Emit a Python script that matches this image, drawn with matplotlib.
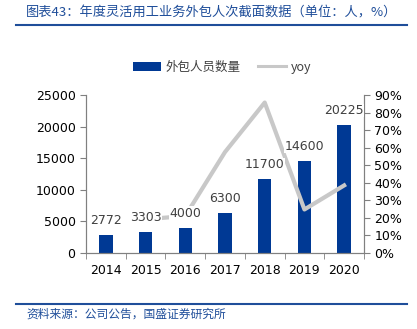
import matplotlib.pyplot as plt
from matplotlib.lines import Line2D
from matplotlib.ticker import FixedLocator, FuncFormatter
import numpy as np

plt.rcParams['font.family'] = ['Noto Sans CJK SC', 'DejaVu Sans']

years = ['2014', '2015', '2016', '2017', '2018', '2019', '2020']
staff = [2772, 3303, 4000, 6300, 11700, 14600, 20225]
yoy_years = ['2015', '2016', '2017', '2018', '2019', '2020']
yoy = [19.2, 21.1, 57.5, 85.7, 24.8, 38.5]

title = '图表43：年度灵活用工业务外包人次截面数据（单位：人，%）'
source = '资料来源：公司公告，国盛证券研究所'

bar_color = '#003994'
line_color = '#c8c8c8'
text_color = '#404040'
blue = '#1f4e9a'

fig = plt.figure(figsize=(4.17, 3.29), dpi=100)
ax = fig.add_axes([86 / 417, 1 - 253 / 329, 278 / 417, 158 / 329])
ax2 = ax.twinx()

x = np.arange(len(years))
bars = ax.bar(x, staff, width=0.34, color=bar_color, label='外包人员数量', zorder=2)

xi_yoy = [years.index(y) for y in yoy_years]
ax2.plot(xi_yoy, yoy, color=line_color, lw=3, zorder=3)

# value labels sit above the line, with a white backing
for xi, v in zip(x, staff):
    ax2.text(xi, (v + 1300) / 25000 * 90, str(v), ha='center', va='bottom', fontsize=9,
             color=text_color, family='DejaVu Sans', zorder=5,
             bbox=dict(facecolor='white', edgecolor='none', pad=0.1))

ax.set_xlim(-0.5, len(years) - 0.5)
ax.set_ylim(0, 25000)
ax.set_yticks(range(0, 25001, 5000))
ax2.set_ylim(0, 90)
ax2.set_yticks(range(0, 91, 10))
ax2.yaxis.set_major_formatter(FuncFormatter(lambda v, p: f'{int(v)}%'))

ax.set_xticks(x)
ax.set_xticklabels(years)
ax.tick_params(axis='x', length=0, pad=8)
ax.xaxis.set_minor_locator(FixedLocator(np.arange(-0.5, len(years), 1)))
ax.tick_params(axis='x', which='minor', length=4, direction='out', color='#808080')

for a in (ax, ax2):
    a.spines['top'].set_visible(False)
    for s in ('left', 'right', 'bottom'):
        a.spines[s].set_color('#808080')
    a.tick_params(axis='y', length=4, direction='out', color='#808080', labelsize=9,
                  labelcolor='black')
ax.tick_params(axis='x', labelsize=9, labelcolor='black')
for lbl in ax.get_xticklabels() + ax.get_yticklabels() + ax2.get_yticklabels():
    lbl.set_family('DejaVu Sans')

line_handle = Line2D([], [], color=line_color, lw=2.2, label='yoy')
fig.legend(handles=[bars, line_handle], loc='center',
           bbox_to_anchor=(222 / 417, 1 - 67 / 329),
           ncol=2, frameon=False, fontsize=9, handlelength=2.2, columnspacing=1.4,
           handletextpad=0.4, labelcolor=text_color)

fig.text(26 / 417, 1 - 13 / 329, title, fontsize=9.5, color=blue, style='italic',
         ha='left', va='center')
fig.add_artist(plt.Line2D([16 / 417, 407 / 417], [1 - 25 / 329, 1 - 25 / 329],
                          color=blue, lw=1.5))
fig.add_artist(plt.Line2D([16 / 417, 407 / 417], [1 - 304 / 329, 1 - 304 / 329],
                          color=blue, lw=1.5))
fig.text(26 / 417, 1 - 314 / 329, source, fontsize=8.5, color=blue, style='italic',
         ha='left', va='center')

fig.savefig('out.png', dpi=100)
